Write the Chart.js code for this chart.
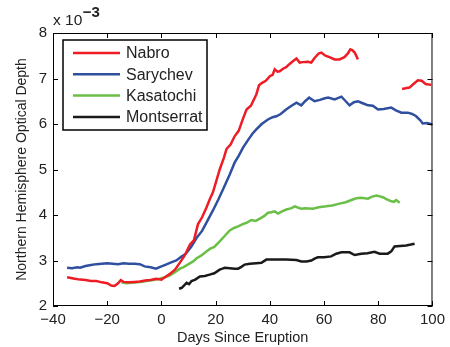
<!DOCTYPE html>
<html>
<head>
<meta charset="utf-8">
<script src="https://cdn.jsdelivr.net/npm/chart.js@4"></script>
<style>
  body { margin: 0; background: #fff; }
  canvas { display: block; }
</style>
</head>
<body>
<canvas id="chart" width="450" height="347"></canvas>
<script>
// Values (optical depth, in units of 1e-3)
const nabroDays = [-34.8, -32, -30, -28, -26, -24, -22, -20, -18.5, -17.3, -16, -15, -14, -12, -10, -8, -6, -4, -2, 0, 1, 3, 5, 7, 8.5, 10.5, 12, 13.5, 15, 16.5, 17.8, 19, 20.5, 21.5, 23, 24, 25.5, 27, 28.5, 30, 31.4, 33, 35, 36, 37, 38.5, 40, 41, 41.8, 42.8, 43.6, 45, 46, 47.3, 48.5, 49.8, 51, 52, 54, 55.3, 56.5, 58, 59, 60.5, 62, 63.9, 65.7, 67.5, 68.8, 69.7, 70.5, 71.3, 72.5, 80, 88.8, 90.5, 91.5, 93, 94.6, 96, 97.5, 99.5];
const nabroVals = [2.63, 2.6, 2.58, 2.57, 2.55, 2.55, 2.52, 2.5, 2.45, 2.44, 2.5, 2.57, 2.53, 2.52, 2.53, 2.54, 2.56, 2.57, 2.6, 2.58, 2.62, 2.7, 2.8, 2.97, 3.1, 3.35, 3.45, 3.8, 3.95, 4.15, 4.34, 4.5, 4.8, 5.0, 5.25, 5.45, 5.55, 5.73, 5.85, 6.1, 6.32, 6.4, 6.65, 6.85, 6.9, 6.95, 7.05, 7.08, 7.2, 7.15, 7.16, 7.22, 7.25, 7.32, 7.38, 7.44, 7.35, 7.36, 7.37, 7.35, 7.45, 7.55, 7.57, 7.5, 7.47, 7.42, 7.42, 7.47, 7.55, 7.64, 7.62, 7.57, 7.42, null, 6.77, 6.79, 6.8, 6.88, 6.96, 6.95, 6.88, 6.86];

const sarychevDays = [-34.8, -33, -31, -30, -28, -26, -24, -22, -20, -18, -16, -14, -12, -10, -8, -6.2, -4, -2, 0, 1.2, 3.6, 5.5, 7.3, 9, 11, 13, 15, 17.2, 19, 21, 23, 25.2, 27, 28.5, 30.1, 32, 33.5, 35, 37, 39.3, 41, 42.4, 44, 46, 48, 49.8, 51.6, 53, 54.5, 56.5, 58.5, 60, 61.5, 63.9, 66.4, 68, 69.4, 71, 72.5, 74.5, 76.2, 78, 79.9, 82, 84.8, 86.5, 88.5, 90.9, 92.5, 94, 95.5, 96.4, 98, 100];
const sarychevVals = [2.84, 2.83, 2.85, 2.84, 2.88, 2.9, 2.92, 2.93, 2.94, 2.93, 2.92, 2.94, 2.93, 2.93, 2.92, 2.87, 2.85, 2.82, 2.87, 2.9, 2.96, 3.0, 3.08, 3.15, 3.3, 3.5, 3.65, 3.9, 4.1, 4.34, 4.6, 4.89, 5.15, 5.3, 5.48, 5.65, 5.78, 5.88, 6.0, 6.1, 6.15, 6.17, 6.22, 6.32, 6.4, 6.47, 6.41, 6.5, 6.58, 6.5, 6.53, 6.56, 6.58, 6.54, 6.6, 6.5, 6.41, 6.48, 6.5, 6.45, 6.41, 6.4, 6.32, 6.33, 6.36, 6.3, 6.25, 6.25, 6.22, 6.17, 6.08, 6.01, 6.02, 5.99];

const kasatochiDays = [-14.8, -13, -11, -9, -7, -5.6, -3, -0.7, 1, 3, 5, 6.8, 8, 10, 11.7, 13, 14.5, 16.6, 18, 19.5, 21.5, 23.5, 25.2, 27, 28.3, 30, 31.4, 33.2, 34.8, 36.3, 38, 39.3, 40.5, 41.8, 43, 44.5, 46.1, 48, 49.2, 50.5, 51.6, 53, 55.9, 58, 60.8, 63, 65.7, 68, 70.6, 72, 73.7, 75, 76.2, 77.5, 79.3, 80.5, 81.7, 83, 84.8, 85.8, 86.6, 87.9];
const kasatochiVals = [2.52, 2.5, 2.51, 2.52, 2.53, 2.55, 2.57, 2.6, 2.63, 2.67, 2.74, 2.82, 2.85, 2.92, 2.98, 3.05, 3.1, 3.2, 3.26, 3.3, 3.42, 3.55, 3.66, 3.72, 3.75, 3.8, 3.83, 3.89, 3.87, 3.92, 3.98, 4.05, 4.06, 4.08, 4.03, 4.08, 4.12, 4.15, 4.19, 4.16, 4.14, 4.15, 4.14, 4.17, 4.19, 4.21, 4.25, 4.28, 4.34, 4.37, 4.38, 4.37, 4.36, 4.4, 4.43, 4.41, 4.39, 4.35, 4.3, 4.29, 4.33, 4.27];

const montserratDays = [6.5, 7.5, 8.3, 9.3, 10.2, 11.1, 12.5, 14.2, 16, 17.8, 19.5, 21.5, 22.5, 23.4, 25.2, 27, 28.3, 29.5, 30.7, 32.6, 35, 36.9, 38.7, 41, 43.6, 46, 49.8, 51.6, 53.5, 55.3, 56.5, 57.7, 60, 62.6, 64.5, 66.4, 68, 69.4, 71.3, 73.7, 76, 78.6, 80.5, 82, 83.5, 84.8, 86, 88, 90.3, 92, 93.4];
const montserratVals = [2.38, 2.4, 2.45, 2.51, 2.48, 2.55, 2.58, 2.65, 2.66, 2.69, 2.72, 2.8, 2.82, 2.84, 2.83, 2.82, 2.82, 2.86, 2.91, 2.93, 2.94, 2.95, 3.02, 3.02, 3.02, 3.02, 3.01, 2.98, 2.98, 3.0, 3.04, 3.07, 3.07, 3.09, 3.15, 3.18, 3.18, 3.18, 3.12, 3.15, 3.16, 3.19, 3.15, 3.15, 3.15, 3.2, 3.31, 3.32, 3.33, 3.35, 3.37];

const seriesNames = ['Nabro', 'Sarychev', 'Kasatochi', 'Montserrat'];
const seriesColors = ['#ee1c25', '#2f4f9f', '#6bbf47', '#1a1a1a'];

const FONT = '"Liberation Sans", Arial, Helvetica, sans-serif';

function toPoints(days, vals) {
  return days.map((d, i) => ({ x: d, y: vals[i] }));
}

function makeDataset(i, days, vals) {
  return {
    label: seriesNames[i],
    data: toPoints(days, vals),
    borderColor: seriesColors[i],
    backgroundColor: seriesColors[i],
    borderWidth: 2.5,
    pointRadius: 0,
    tension: 0,
    spanGaps: false
  };
}

// MATLAB-style box with inward ticks, legend box and exponent label
const matlabDecor = {
  id: 'matlabDecor',
  afterDraw(chart) {
    const ctx = chart.ctx;
    const a = chart.chartArea;
    const xs = chart.scales.x;
    const ys = chart.scales.y;
    const tick = 5;
    ctx.save();
    ctx.strokeStyle = '#000';
    ctx.lineWidth = 1;
    ctx.strokeRect(a.left + 0.5, a.top + 0.5, a.right - a.left - 1, a.bottom - a.top - 1);
    ctx.beginPath();
    xs.ticks.forEach(t => {
      const px = Math.round(xs.getPixelForValue(t.value)) + 0.5;
      ctx.moveTo(px, a.bottom); ctx.lineTo(px, a.bottom - tick);
      ctx.moveTo(px, a.top); ctx.lineTo(px, a.top + tick);
    });
    ys.ticks.forEach(t => {
      const py = Math.round(ys.getPixelForValue(t.value)) + 0.5;
      ctx.moveTo(a.left, py); ctx.lineTo(a.left + tick, py);
      ctx.moveTo(a.right, py); ctx.lineTo(a.right - tick, py);
    });
    ctx.stroke();

    // exponent label
    ctx.fillStyle = '#222';
    ctx.textBaseline = 'alphabetic';
    ctx.textAlign = 'left';
    ctx.font = '15.5px ' + FONT;
    ctx.fillText('x 10', a.left, 25);
    const w = ctx.measureText('x 10').width;
    ctx.font = 'bold 15px ' + FONT;
    ctx.fillText('\u22123', a.left + w + 0.5, 17);

    // legend
    const lx = 63, ly = 40, lw = 144, lh = 90;
    ctx.fillStyle = '#fff';
    ctx.fillRect(lx, ly, lw, lh);
    ctx.lineWidth = 1.5;
    ctx.strokeStyle = '#000';
    ctx.strokeRect(lx, ly, lw, lh);
    ctx.font = '16px ' + FONT;
    ctx.textBaseline = 'middle';
    seriesNames.forEach((name, i) => {
      const y = 53 + i * 21.3;
      ctx.strokeStyle = seriesColors[i];
      ctx.lineWidth = 2.5;
      ctx.beginPath();
      ctx.moveTo(73, y); ctx.lineTo(120, y);
      ctx.stroke();
      ctx.fillStyle = '#222';
      ctx.fillText(name, 126, y + 1);
    });
    ctx.restore();
  }
};

new Chart(document.getElementById('chart'), {
  type: 'line',
  data: {
    datasets: [
      makeDataset(0, nabroDays, nabroVals),
      makeDataset(1, sarychevDays, sarychevVals),
      makeDataset(2, kasatochiDays, kasatochiVals),
      makeDataset(3, montserratDays, montserratVals)
    ]
  },
  options: {
    responsive: false,
    animation: false,
    layout: { padding: { top: 33, right: 17, left: 0, bottom: 0 } },
    plugins: {
      legend: { display: false },
      tooltip: { enabled: false }
    },
    scales: {
      x: {
        type: 'linear',
        min: -40,
        max: 100,
        afterFit: s => { s.height = 41; },
        grid: { display: false, drawTicks: false },
        border: { display: false },
        ticks: {
          stepSize: 20,
          padding: 5,
          color: '#222',
          font: { family: FONT, size: 15 },
          maxRotation: 0,
          callback: v => String(v).replace('-', '\u2212')
        },
        title: {
          display: true,
          text: 'Days Since Eruption',
          color: '#222',
          font: { family: FONT, size: 14.5 },
          padding: { top: 0, bottom: 0 }
        }
      },
      y: {
        type: 'linear',
        min: 2,
        max: 8,
        afterFit: s => { s.width = 53; },
        grid: { display: false, drawTicks: false },
        border: { display: false },
        ticks: {
          stepSize: 1,
          padding: 6,
          color: '#222',
          font: { family: FONT, size: 15 }
        },
        title: {
          display: true,
          text: 'Northern Hemisphere Optical Depth',
          color: '#222',
          font: { family: FONT, size: 14 },
          padding: { top: 14, bottom: 0 }
        }
      }
    }
  },
  plugins: [matlabDecor]
});
</script>
</body>
</html>
